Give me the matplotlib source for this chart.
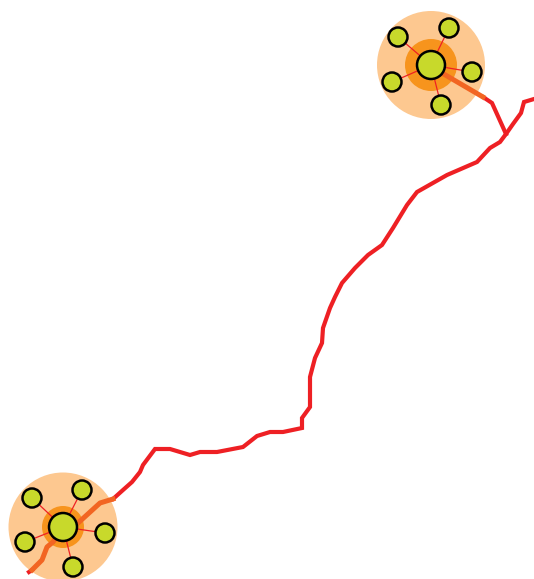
import matplotlib.pyplot as plt
from matplotlib.patches import Circle

# route (pixel coords, y down)
route_x = [534, 524, 521, 513, 506, 500, 490, 477, 447, 417, 407, 393, 382, 368, 355, 342, 335, 330,
           323, 322, 315, 310, 310, 302, 302, 283, 270, 257, 243, 217, 200, 190, 170, 155, 143, 140,
           132, 123, 113]
route_y = [99, 102, 113, 124, 134, 142, 148, 162, 175, 192, 205, 228, 245, 255, 268, 283, 297, 308,
           328, 343, 358, 377, 407, 418, 428, 432, 432, 436, 447, 452, 452, 455, 449, 449, 465, 472,
           482, 490, 499]
branch_x = [483, 492, 506]
branch_y = [97, 103, 134]
top_local_x = [430, 483]
top_local_y = [66, 97]
bot_local_x = [113, 100, 78, 62, 53, 47, 42, 32]
bot_local_y = [499, 503, 523, 530, 542, 547, 542 + 18, 570]
tail_x = [32, 29]
tail_y = [570, 572]

# clusters: center, halo radius, core radius, hub radius, satellites
clusters = [
    dict(cx=431, cy=65, halo=54, core=26, hub=14,
         sats=[(398, 37), (449, 28), (472, 72), (441, 105), (392, 82)]),
    dict(cx=63, cy=527, halo=54.5, core=21, hub=14,
         sats=[(32, 498), (82, 490), (105, 533), (73, 567), (25, 542)]),
]
sat_r = 9.5

red = '#ee2024'
orange_line = '#f26522'
halo_c = '#fdc890'
core_c = '#f7941d'
node_c = '#c8d92b'

fig = plt.figure(figsize=(5.34, 5.79), dpi=100)
ax = fig.add_axes([0, 0, 1, 1])
ax.set_xlim(0, 534)
ax.set_ylim(579, 0)
ax.set_aspect('equal')
ax.axis('off')

for c in clusters:
    ax.add_patch(Circle((c['cx'], c['cy']), c['halo'], color=halo_c, lw=0, zorder=1))
    ax.add_patch(Circle((c['cx'], c['cy']), c['core'], color=core_c, lw=0, zorder=2))

ax.plot(route_x, route_y, color=red, lw=3.0, solid_joinstyle='miter', zorder=3)
ax.plot(branch_x, branch_y, color=red, lw=3.0, solid_joinstyle='miter', zorder=3)
ax.plot(tail_x, tail_y, color=red, lw=3.0, zorder=3)
ax.plot(top_local_x, top_local_y, color=orange_line, lw=3.6, zorder=3)
ax.plot(bot_local_x, bot_local_y, color=orange_line, lw=3.6, zorder=3)

for c in clusters:
    for sx, sy in c['sats']:
        ax.plot([c['cx'], sx], [c['cy'], sy], color=red, lw=0.9, zorder=4)
        ax.add_patch(Circle((sx, sy), sat_r, facecolor=node_c, edgecolor='black', lw=1.8, zorder=5))
    ax.add_patch(Circle((c['cx'], c['cy']), c['hub'], facecolor=node_c, edgecolor='black', lw=1.8, zorder=5))

fig.savefig('out.png', dpi=100)
